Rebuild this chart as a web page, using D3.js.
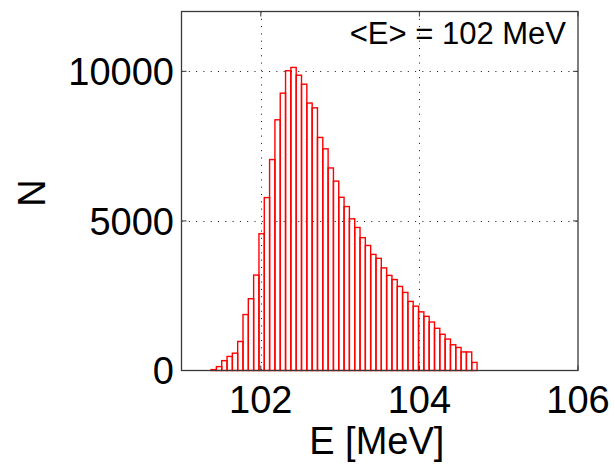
<!DOCTYPE html>
<html>
<head>
<meta charset="utf-8">
<script src="https://cdn.jsdelivr.net/npm/d3@7"></script>
<style>
  body { margin: 0; background: #fff; }
  text { font-family: "Liberation Sans", Arial, sans-serif; fill: #000; }
</style>
</head>
<body>
<div id="chart"></div>
<script>
var svgWidth = 615;
var svgHeight = 464;

// histogram range (first bin edge, last bin edge) and counts per bin
var binRange = [101.373, 104.727];
var counts = [
  30, 130, 330, 470, 580, 970, 1870, 2400, 3190, 4570,
  5780, 7050, 8380, 9270, 10020, 10130, 9870, 9570, 8940, 8780,
  7790, 7410, 6770, 6330, 5790, 5480, 5070, 4780, 4440, 4180,
  3880, 3750, 3430, 3180, 3040, 2810, 2610, 2310, 2150, 1960,
  1810, 1620, 1410, 1210, 1050, 860, 770, 620, 620, 270
];
var xTicks = [102, 104, 106];
var yTicks = [0, 5000, 10000];
var xGrid = [102, 104];
var yGrid = [5000, 10000];
var meanLabel = "<E> = 102 MeV";

var plot = { left: 181.5, right: 578, top: 11.5, bottom: 370.5 };

var svg = d3.select("#chart")
  .append("svg")
  .attr("width", svgWidth)
  .attr("height", svgHeight);

var x = d3.scaleLinear().domain([101, 106]).range([plot.left, plot.right]);
var y = d3.scaleLinear().domain([0, 12000]).range([plot.bottom, plot.top]);

var binW = (binRange[1] - binRange[0]) / counts.length;
var bins = counts.map(function(c, i) {
  return { x0: binRange[0] + i * binW, x1: binRange[0] + (i + 1) * binW, n: c };
});

// dotted grid
var grid = svg.append("g")
  .attr("stroke", "#111")
  .attr("stroke-width", 1)
  .attr("stroke-dasharray", "1,6.3");

grid.selectAll("line.vx")
  .data(xGrid)
  .enter()
  .append("line")
  .attr("x1", d => Math.round(x(d)) + 0.5)
  .attr("x2", d => Math.round(x(d)) + 0.5)
  .attr("y1", plot.top)
  .attr("y2", plot.bottom);

grid.selectAll("line.hy")
  .data(yGrid)
  .enter()
  .append("line")
  .attr("x1", plot.left)
  .attr("x2", plot.right)
  .attr("y1", d => Math.round(y(d)) + 0.5)
  .attr("y2", d => Math.round(y(d)) + 0.5);

// histogram bars
svg.append("g")
  .selectAll("rect")
  .data(bins)
  .enter()
  .append("rect")
  .attr("x", d => x(d.x0))
  .attr("width", d => x(d.x1) - x(d.x0))
  .attr("y", d => y(d.n))
  .attr("height", d => y(0) - y(d.n))
  .attr("fill", "none")
  .attr("stroke", "#ff0000")
  .attr("stroke-width", 1.4);

// inward ticks on all four sides
var tickLen = 5;
var ticks = svg.append("g").attr("stroke", "#333").attr("stroke-width", 1);
xTicks.forEach(function(t) {
  ticks.append("line").attr("x1", x(t)).attr("x2", x(t))
    .attr("y1", plot.bottom).attr("y2", plot.bottom - tickLen);
  ticks.append("line").attr("x1", x(t)).attr("x2", x(t))
    .attr("y1", plot.top).attr("y2", plot.top + tickLen);
});
yTicks.forEach(function(t) {
  ticks.append("line").attr("x1", plot.left).attr("x2", plot.left + tickLen)
    .attr("y1", y(t)).attr("y2", y(t));
  ticks.append("line").attr("x1", plot.right).attr("x2", plot.right - tickLen)
    .attr("y1", y(t)).attr("y2", y(t));
});

// frame
svg.append("rect")
  .attr("x", plot.left)
  .attr("y", plot.top)
  .attr("width", plot.right - plot.left)
  .attr("height", plot.bottom - plot.top)
  .attr("fill", "none")
  .attr("stroke", "#3a3a3a")
  .attr("stroke-width", 1.3);

// tick labels
svg.append("g")
  .selectAll("text")
  .data(xTicks)
  .enter()
  .append("text")
  .attr("x", d => x(d))
  .attr("y", 413)
  .attr("text-anchor", "middle")
  .attr("font-size", 38)
  .text(d => d);

svg.append("g")
  .selectAll("text")
  .data(yTicks)
  .enter()
  .append("text")
  .attr("x", 174)
  .attr("y", d => y(d))
  .attr("dy", "0.36em")
  .attr("text-anchor", "end")
  .attr("font-size", 38)
  .text(d => d);

// axis titles
svg.append("text")
  .attr("x", (plot.left + plot.right) / 2 - 3)
  .attr("y", 454)
  .attr("text-anchor", "middle")
  .attr("font-size", 38)
  .text("E [MeV]");

svg.append("text")
  .attr("transform", "translate(45," + ((plot.top + plot.bottom) / 2 + 2) + ")rotate(-90)")
  .attr("text-anchor", "middle")
  .attr("font-size", 38)
  .text("N");

// mean annotation
svg.append("text")
  .attr("x", 566)
  .attr("y", 43.5)
  .attr("text-anchor", "end")
  .attr("font-size", 31)
  .text(meanLabel);
</script>
</body>
</html>
